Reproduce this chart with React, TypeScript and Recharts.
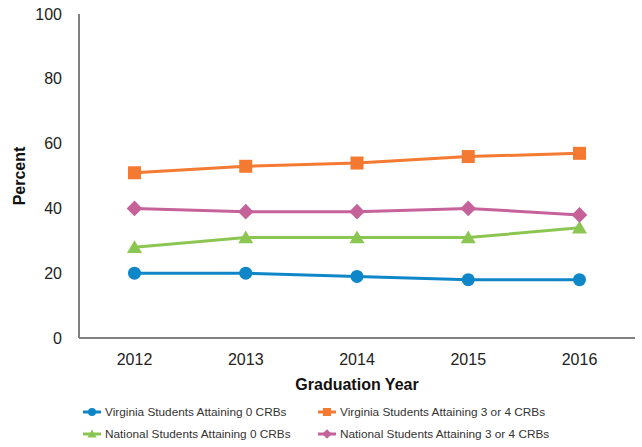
import React from 'react';
import { LineChart, Line, XAxis, YAxis, Legend } from 'recharts';

const years = ['2012', '2013', '2014', '2015', '2016'];
const vaZero = [20, 20, 19, 18, 18];
const vaThreeFour = [51, 53, 54, 56, 57];
const natZero = [28, 31, 31, 31, 34];
const natThreeFour = [40, 39, 39, 40, 38];
const yTicks = [0, 20, 40, 60, 80, 100];

const seriesNames = [
  'Virginia Students Attaining 0 CRBs',
  'Virginia Students Attaining 3 or 4 CRBs',
  'National Students Attaining 0 CRBs',
  'National Students Attaining 3 or 4 CRBs',
];
const seriesKeys = ['vaZero', 'vaThreeFour', 'natZero', 'natThreeFour'];
const seriesColors = ['#0E86C8', '#F47A32', '#8CC652', '#C6629A'];
const seriesShapes = ['circle', 'square', 'triangle', 'diamond'];

const data = years.map((year, i) => ({
  year,
  vaZero: vaZero[i],
  vaThreeFour: vaThreeFour[i],
  natZero: natZero[i],
  natThreeFour: natThreeFour[i],
}));

const FONT = '"Liberation Sans", Arial, Helvetica, sans-serif';

function Marker({ shape, cx, cy, color, s }: { shape: string; cx: number; cy: number; color: string; s: number }) {
  if (cx == null || cy == null) return null;
  if (shape === 'circle') return <circle cx={cx} cy={cy} r={s} fill={color} />;
  if (shape === 'square') return <rect x={cx - s} y={cy - s} width={2 * s} height={2 * s} fill={color} />;
  if (shape === 'triangle') {
    const h = s * 1.1;
    return <polygon points={`${cx},${cy - h} ${cx + h * 1.05},${cy + h * 0.8} ${cx - h * 1.05},${cy + h * 0.8}`} fill={color} />;
  }
  const d = s * 1.2;
  return <polygon points={`${cx},${cy - d} ${cx + d},${cy} ${cx},${cy + d} ${cx - d},${cy}`} fill={color} />;
}

const makeDot = (idx: number) => (props: any) => (
  <Marker key={`dot-${idx}-${props.index}`} shape={seriesShapes[idx]} cx={props.cx} cy={props.cy} color={seriesColors[idx]} s={6.5} />
);

function LegendContent() {
  return (
    <div
      style={{
        display: 'grid',
        gridTemplateColumns: '235px 270px',
        gridAutoRows: '16px',
        alignContent: 'start',
        rowGap: 6,
        paddingLeft: 83,
        paddingTop: 1,
        height: 44,
        boxSizing: 'border-box',
        fontFamily: FONT,
        fontSize: 11.8,
        color: '#333',
      }}
    >
      {seriesNames.map((name, i) => (
        <div key={name} style={{ display: 'flex', alignItems: 'center', height: 16 }}>
          <svg width={18} height={12} style={{ marginRight: 4 }}>
            <line x1={0} y1={6} x2={18} y2={6} stroke={seriesColors[i]} strokeWidth={3} />
            <Marker shape={seriesShapes[i]} cx={9} cy={6} color={seriesColors[i]} s={4} />
          </svg>
          <span>{name}</span>
        </div>
      ))}
    </div>
  );
}

export default function App() {
  return (
    <div style={{ position: 'absolute', left: 0, top: 0, background: '#fff' }}>
      <LineChart width={642} height={447} data={data} margin={{ top: 14, right: 7, left: 0, bottom: 0 }}>
        <XAxis
          dataKey="year"
          height={65}
          padding={{ left: 55.5, right: 55.5 }}
          axisLine={{ stroke: '#808080', strokeWidth: 2 }}
          tickLine={false}
          tick={{ fill: '#222', fontSize: 16, fontFamily: FONT }}
          tickMargin={10}
          label={{ value: 'Graduation Year', position: 'insideTop', offset: 41, fill: '#111', fontSize: 16, fontWeight: 'bold', fontFamily: FONT }}
        />
        <YAxis
          width={79}
          domain={[0, 100]}
          ticks={yTicks}
          axisLine={{ stroke: '#808080', strokeWidth: 2 }}
          tickLine={false}
          tick={{ fill: '#222', fontSize: 16, fontFamily: FONT }}
          tickMargin={11}
          label={{ value: 'Percent', angle: -90, position: 'center', dx: -20, fill: '#111', fontSize: 16, fontWeight: 'bold', fontFamily: FONT }}
        />
        <Legend verticalAlign="bottom" content={<LegendContent />} />
        {seriesKeys.map((k, i) => (
          <Line
            key={k}
            dataKey={k}
            name={seriesNames[i]}
            stroke={seriesColors[i]}
            strokeWidth={3}
            dot={makeDot(i)}
            activeDot={false}
            isAnimationActive={false}
          />
        ))}
      </LineChart>
    </div>
  );
}
